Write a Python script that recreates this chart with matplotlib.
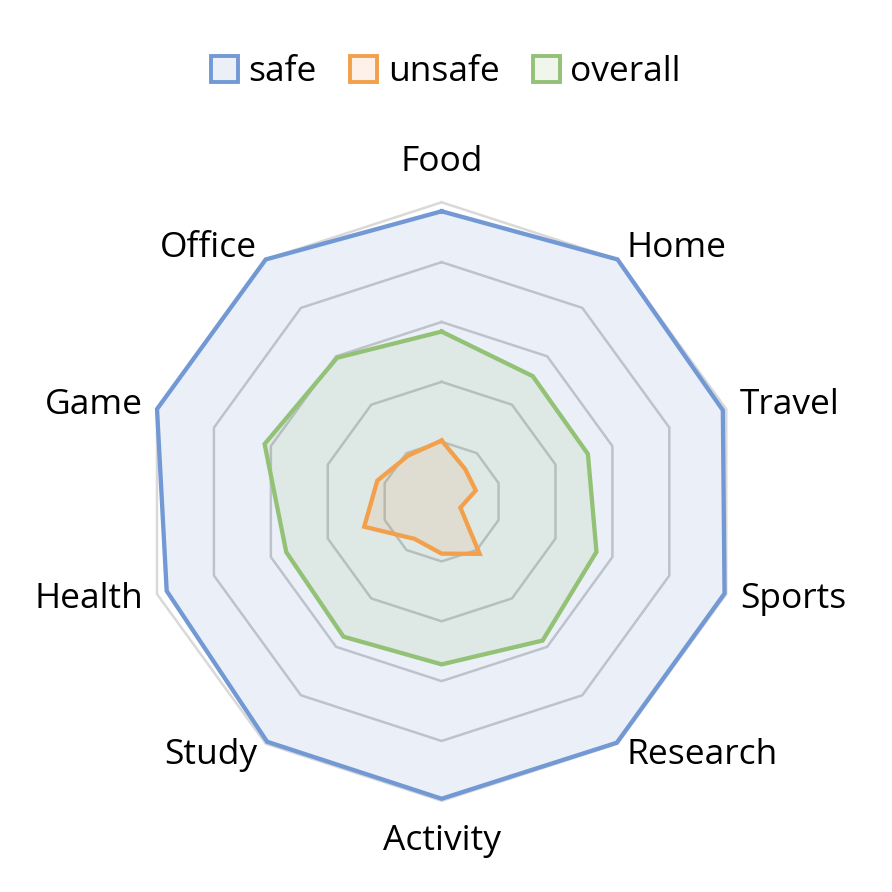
import numpy as np
import matplotlib
matplotlib.use("Agg")
import matplotlib.pyplot as plt
from matplotlib.patches import Patch
from matplotlib.colors import to_rgba

# categories, clockwise from the top
categories = ["Food", "Home", "Travel", "Sports", "Research",
              "Activity", "Study", "Health", "Game", "Office"]

safe = [97, 100, 98.8, 99.4, 99.6, 99.3, 99.2, 96.6, 100, 100]
unsafe = [20.4, 13.4, 12, 6.6, 21.6, 17.4, 15.4, 27.2, 22.6, 19]
overall = [56.8, 51.8, 51.4, 54.4, 57.4, 54.4, 55.8, 54.6, 62.2, 59.4]

ring_levels = [20, 40, 60, 80, 100]

# name, values, fill colour, line colour
series = [("safe", safe, "#4472C4", "#7399D4"),
          ("unsafe", unsafe, "#ED7D31", "#F3A04C"),
          ("overall", overall, "#70AD47", "#93C277")]

plt.rcParams["font.family"] = ["Open Sans", "DejaVu Sans"]

fig = plt.figure(figsize=(8.92, 8.92), dpi=100)
ax = fig.add_axes([0.1596, 0.1022, 0.671, 0.671], projection="polar")
ax.set_theta_zero_location("N")
ax.set_theta_direction(-1)
ax.set_ylim(0, 100)
ax.grid(False)
ax.set_xticks([])
ax.set_yticks([])
ax.spines["polar"].set_visible(False)
ax.patch.set_alpha(0)

n = len(categories)
theta = np.deg2rad(np.arange(n) * 360 / n)
theta_c = np.append(theta, theta[0])

# polygon grid rings
for lev in ring_levels:
    col = "#D9D9D9" if lev == ring_levels[-1] else "#CCCCCC"
    ax.plot(theta_c, [lev] * (n + 1), color=col, lw=1.8, zorder=1, clip_on=False)

# fills first, then outlines
fill_order = ["safe", "overall", "unsafe"]
lookup = {s[0]: s[1:] for s in series}
for name in fill_order:
    vals, fc, lc = lookup[name]
    v = np.append(vals, vals[0])
    ax.fill(theta_c, v, color=fc, alpha=0.1, lw=0, zorder=2, clip_on=False)
for name in fill_order:
    vals, fc, lc = lookup[name]
    v = np.append(vals, vals[0])
    ax.plot(theta_c, v, color=lc, lw=3.1, zorder=3,
            solid_joinstyle="miter", clip_on=False)

# category labels around the outer ring
for t, lab in zip(theta, categories):
    s, c = np.sin(t), np.cos(t)
    if abs(s) < 1e-6:
        off = (0, 40 * np.sign(c))
        ha = "center"
    else:
        off = (14.7 * s, 14.6 * c)
        ha = "left" if s > 0 else "right"
    ax.annotate(lab, xy=(t, 100), xytext=off, textcoords="offset pixels",
                ha=ha, va="center", fontsize=25.5, color="black",
                annotation_clip=False)

handles = [Patch(facecolor=to_rgba(fc, 0.1), edgecolor=lc,
               linewidth=2.8, label=name) for name, _, fc, lc in series]
fig.legend(handles=handles, loc="center", bbox_to_anchor=(0.5, 1 - 72 / 892),
           ncol=3, frameon=False, fontsize=25.5, handlelength=0.75,
           handleheight=0.75, handletextpad=0.3, columnspacing=0.95)

fig.savefig("out.png", dpi=100, facecolor="white")
